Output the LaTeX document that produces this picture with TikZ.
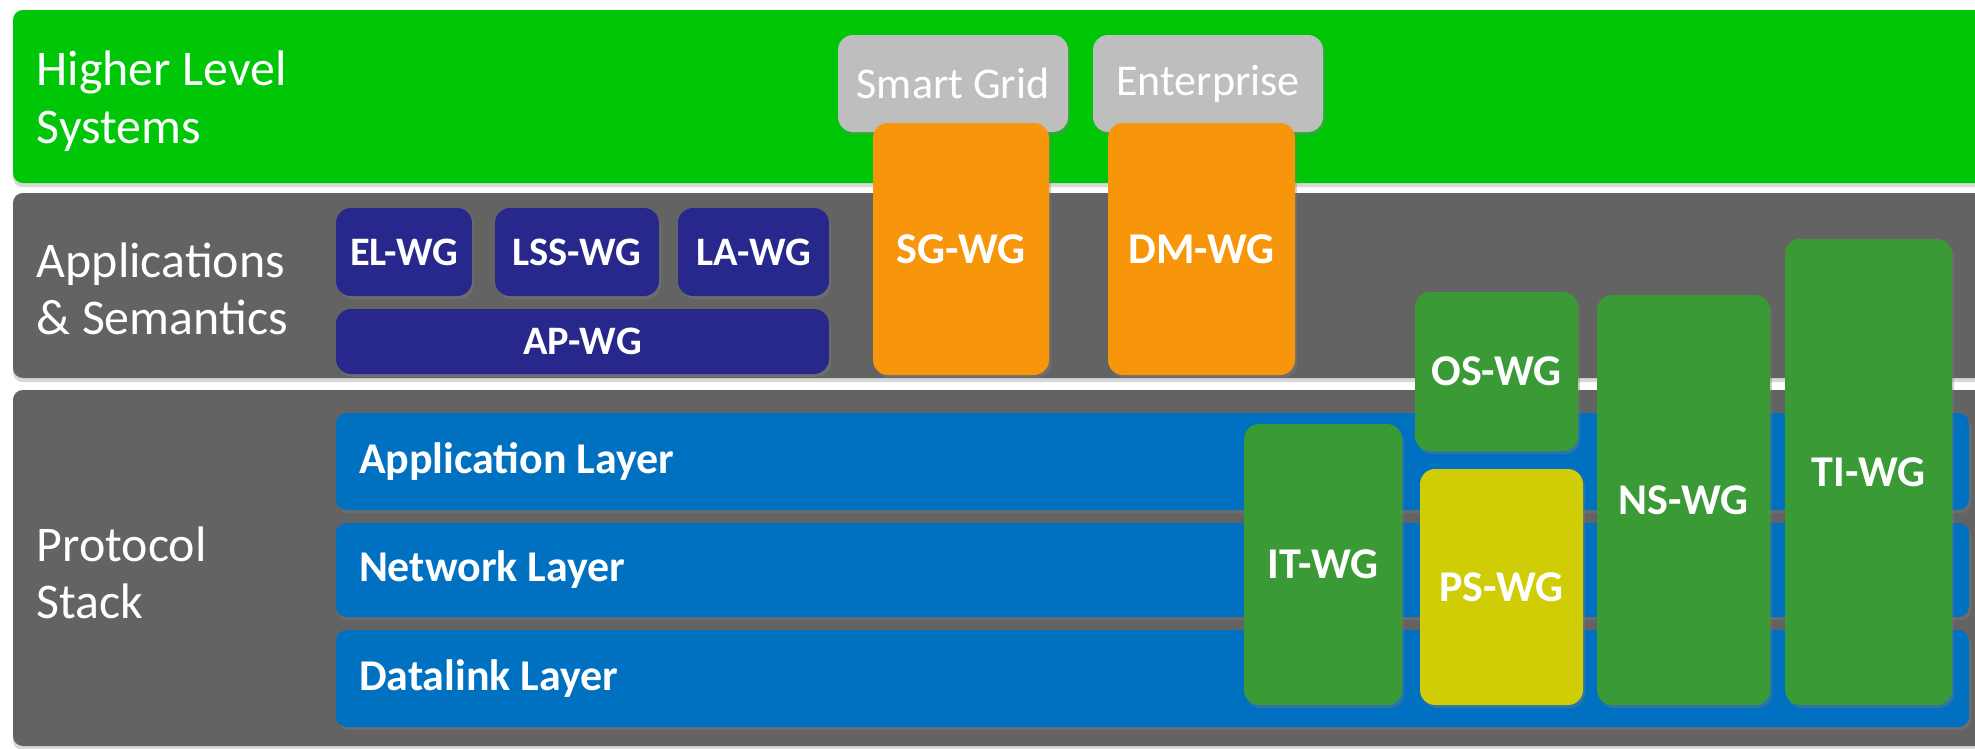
\documentclass[tikz,border=0pt]{standalone}
\usepackage{fontspec}
\setmainfont{Carlito}
\usepackage{tikz}
\usetikzlibrary{fit}
\usetikzlibrary{shadows}

\definecolor{hlsgreen}{RGB}{0,198,8}
\definecolor{bandgray}{RGB}{99,99,99}
\definecolor{apblue}{RGB}{40,40,140}
\definecolor{sgorange}{RGB}{247,150,10}
\definecolor{domgray}{RGB}{190,190,190}
\definecolor{layerblue}{RGB}{0,112,192}
\definecolor{wggreen}{RGB}{58,154,54}
\definecolor{psyellow}{RGB}{208,204,6}

\tikzset{
    band/.style={fill=#1, rounded corners=2.8pt, inner sep=0pt,
        drop shadow={opacity=.3, shadow xshift=0pt, shadow yshift=-1.2pt}},
    bandlabel/.style={text=white, anchor=west, align=left, inner sep=0pt,
        font=\fontsize{14.2}{16.4}\selectfont},
    wg/.style={fill=#1, rounded corners=4.3pt, inner sep=0pt,
        drop shadow={opacity=.35, shadow xshift=.6pt, shadow yshift=-.9pt}},
    wgtext/.style={text=white, inner sep=0pt,
        font=\bfseries\fontsize{12.5}{15}\selectfont},
    aptext/.style={wgtext, font=\bfseries\fontsize{11.5}{14}\selectfont},
    domaintext/.style={wgtext, font=\fontsize{12.5}{15}\selectfont},
    layerbox/.style={wg=layerblue, rounded corners=3pt},
    layerlabel/.style={text=white, anchor=west, inner sep=0pt,
        font=\bfseries\fontsize{12.5}{15}\selectfont},
}

\begin{document}
\begin{tikzpicture}[x=0.01cm, y=-0.01cm]
    \useasboundingbox (0,0) rectangle (1975,748);
    \clip (0,0) rectangle (1975,748);
    \fill[white] (0,0) rectangle (1975,748);

    % the three bands
    \node[band=hlsgreen, fit={(13,10) (1995,183)}] (higher) {};
    \node[band=bandgray, fit={(13,193) (1995,378)}] (apps) {};
    \node[band=bandgray, fit={(13,390) (1995,746)}] (stack) {};
    \node[bandlabel] (higherlbl) at (36,101) {Higher Level\\Systems};
    \node[bandlabel] (appslbl) at (36,289) {Applications\\\& Semantics};
    \node[bandlabel] (stacklbl) at (36,573) {Protocol\\Stack};

    % protocol layers
    \node[layerbox, fit={(336,413) (1969,510)}] (applayer) {};
    \node[layerbox, fit={(336,523) (1969,617)}] (netlayer) {};
    \node[layerbox, fit={(336,630) (1969,727)}] (dllayer) {};
    \node[layerlabel] (applbl) at ([xshift=0.23cm]applayer.west) {Application Layer};
    \node[layerlabel] (netlbl) at ([xshift=0.23cm]netlayer.west) {Network Layer};
    \node[layerlabel] (dllbl) at ([xshift=0.23cm]dllayer.west) {Datalink Layer};

    % application groups
    \node[wg=apblue, fit={(336,208) (472,296)}, label={[aptext]center:EL-WG}] (elwg) {};
    \node[wg=apblue, fit={(495,208) (659,296)}, label={[aptext]center:LSS-WG}] (lsswg) {};
    \node[wg=apblue, fit={(678,208) (829,296)}, label={[aptext]center:LA-WG}] (lawg) {};
    \node[wg=apblue, fit={(336,309) (829,374)}, label={[aptext]center:AP-WG}] (apwg) {};

    % domains
    \node[wg=domgray, fit={(838,35) (1068,132)}, label={[domaintext]center:Smart Grid}] (smartgrid) {};
    \node[wg=domgray, fit={(1093,35) (1323,132)}, label={[domaintext]center:Enterprise}] (enterprise) {};
    \node[wg=sgorange, fit={(873,123) (1049,375)}, label={[wgtext]center:SG-WG}] (sgwg) {};
    \node[wg=sgorange, fit={(1108,123) (1295,375)}, label={[wgtext]center:DM-WG}] (dmwg) {};

    % stack groups
    \node[wg=wggreen, fit={(1244,424) (1402,705)}, label={[wgtext]center:IT-WG}] (itwg) {};
    \node[wg=wggreen, fit={(1415,292) (1578,451)}, label={[wgtext]center:OS-WG}] (oswg) {};
    \node[wg=psyellow, fit={(1420,469) (1583,705)}, label={[wgtext]center:PS-WG}] (pswg) {};
    \node[wg=wggreen, fit={(1597,295) (1770,705)}, label={[wgtext]center:NS-WG}] (nswg) {};
    \node[wg=wggreen, fit={(1785,239) (1952,705)}, label={[wgtext]center:TI-WG}] (tiwg) {};
\end{tikzpicture}
\end{document}
